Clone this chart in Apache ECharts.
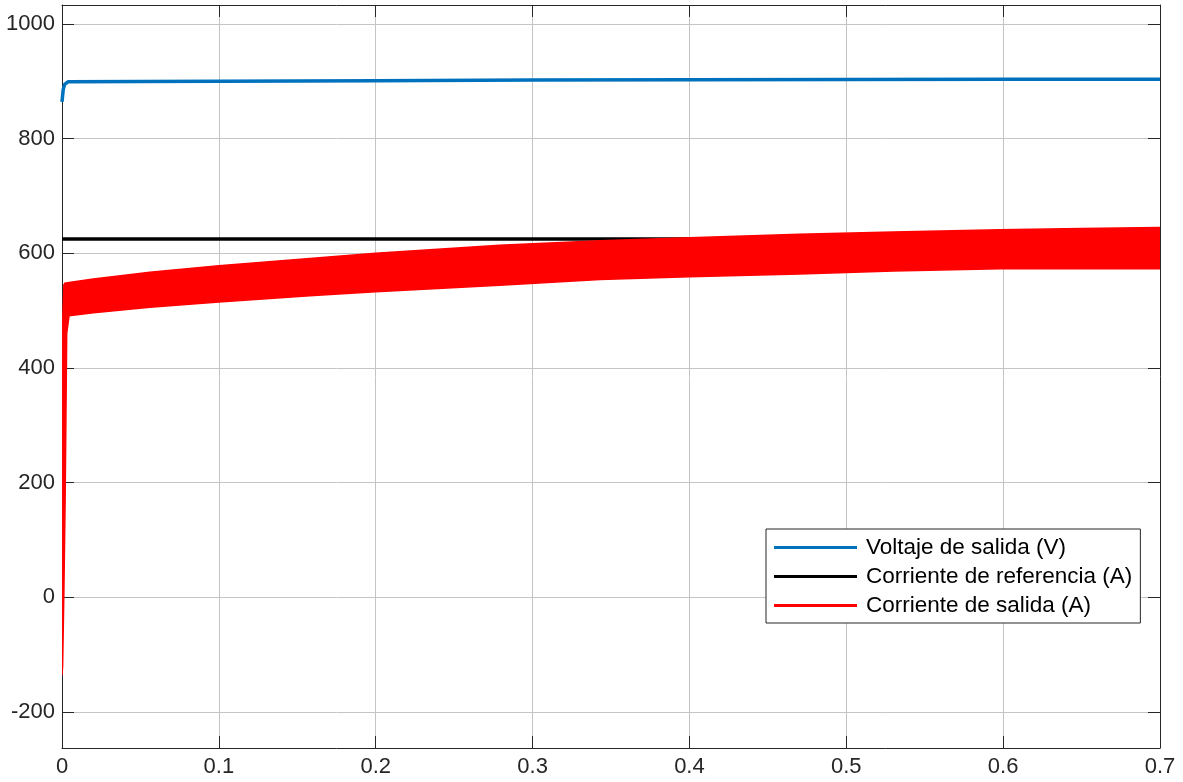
<!DOCTYPE html>
<html>
<head>
<meta charset="utf-8">
<script src="https://cdn.jsdelivr.net/npm/echarts@6/dist/echarts.min.js"></script>
<style>
  html, body { margin: 0; padding: 0; background: #ffffff; }
  #chart { width: 1183px; height: 782px; }
</style>
</head>
<body>
<div id="chart"></div>
<script>
// Axis ticks
const xTicks = [0, 0.1, 0.2, 0.3, 0.4, 0.5, 0.6, 0.7];
const yTicks = [-200, 0, 200, 400, 600, 800, 1000];

// Output voltage (V)
const voltageTime = [0, 0.0008, 0.0018, 0.004, 0.05, 0.1, 0.2, 0.3, 0.4, 0.5, 0.6, 0.7];
const voltageValue = [864, 886, 895, 899, 899.5, 900, 901, 902, 902.5, 903, 903.3, 903.5];

// Reference current (A)
const refTime = [0, 0.7];
const refValue = [625, 625];

// Output current (A): ripple envelope, upper and lower edges
const currentTime = [0, 0.0004, 0.0012, 0.002, 0.003, 0.0045, 0.02, 0.056, 0.1, 0.158, 0.2, 0.279, 0.343, 0.4, 0.47, 0.53, 0.598, 0.65, 0.7];
const currentUpper = [-136, 480, 545, 548, 548, 549, 555, 567, 578, 591, 600, 614, 622, 627, 633, 637, 641, 643, 645];
const currentLower = [-136, -120, 10, 170, 460, 491, 496, 506, 515, 526, 533, 544, 554, 559, 564, 569, 573, 573, 573];

const names = ['Voltaje de salida (V)', 'Corriente de referencia (A)', 'Corriente de salida (A)'];
const colors = ['#0072BD', '#000000', '#FF0000'];

const FONT = 'Liberation Sans, Arial, Helvetica, sans-serif';
const AXIS_COLOR = '#262626';
const GRID_COLOR = '#c4c4c4';

const pairs = (xs, ys) => xs.map((x, i) => [x, ys[i]]);
// one row per envelope sample: [time, upper, lower]
const bandRows = currentTime.map((t, i) => [t, currentUpper[i], currentLower[i]]);

const chart = echarts.init(document.getElementById('chart'), null, { renderer: 'canvas' });

const xBase = {
  type: 'value', min: 0, max: 0.7, interval: 0.1,
  axisLine: { show: true, onZero: false, lineStyle: { color: AXIS_COLOR, width: 1 } },
  axisTick: { show: true, inside: true, length: 12, lineStyle: { color: AXIS_COLOR, width: 1 } },
  splitLine: { show: false }
};
const yBase = {
  type: 'value', min: -263, max: 1033,
  axisLine: { show: true, onZero: false, lineStyle: { color: AXIS_COLOR, width: 1 } },
  axisTick: { show: true, inside: true, length: 12, customValues: yTicks, lineStyle: { color: AXIS_COLOR, width: 1 } },
  splitLine: { show: false }
};

// Filled ripple band of the output current, drawn as one polygon through the axis scales
function renderBand(params, api) {
  if (params.dataIndex !== 0) return null;
  const upper = bandRows.map(r => api.coord([r[0], r[1]]));
  const lower = bandRows.map(r => api.coord([r[0], r[2]])).reverse();
  const cs = params.coordSys;
  return {
    type: 'polygon',
    shape: { points: upper.concat(lower) },
    style: { fill: colors[2], stroke: colors[2], lineWidth: 1.5 },
    clipPath: { type: 'rect', shape: { x: cs.x, y: cs.y, width: cs.width, height: cs.height } }
  };
}

chart.setOption({
  animation: false,
  backgroundColor: '#ffffff',
  grid: { left: 62, right: 23, top: 5, bottom: 34, containLabel: false },
  xAxis: [
    Object.assign({}, xBase, {
      position: 'bottom',
      axisLabel: {
        show: true, margin: 8, fontSize: 22, color: AXIS_COLOR, fontFamily: FONT,
        formatter: v => String(+v.toFixed(1))
      },
      splitLine: { show: true, lineStyle: { color: GRID_COLOR, width: 1 } }
    }),
    Object.assign({}, xBase, { position: 'top', axisLabel: { show: false } })
  ],
  yAxis: [
    Object.assign({}, yBase, {
      position: 'left',
      axisLabel: {
        show: true, margin: 7, fontSize: 22, color: AXIS_COLOR, fontFamily: FONT,
        customValues: yTicks, formatter: v => String(v)
      },
      splitLine: { show: true, lineStyle: { color: GRID_COLOR, width: 1 } }
    }),
    Object.assign({}, yBase, { position: 'right', axisLabel: { show: false } })
  ],
  legend: {
    data: names,
    orient: 'vertical',
    left: 766, top: 529,
    padding: [7, 8, 6, 8],
    itemGap: 6,
    itemWidth: 83, itemHeight: 3,
    icon: 'rect',
    z: 20,
    backgroundColor: '#ffffff',
    borderColor: AXIS_COLOR, borderWidth: 1,
    textStyle: { fontSize: 22.5, color: '#000000', fontFamily: FONT, padding: [0, 0, 0, 4] }
  },
  series: [
    {
      name: names[0], type: 'line', data: pairs(voltageTime, voltageValue),
      showSymbol: false, symbol: 'none', color: colors[0],
      lineStyle: { color: colors[0], width: 3.5 }, z: 2
    },
    {
      name: names[1], type: 'line', data: pairs(refTime, refValue),
      showSymbol: false, symbol: 'none', color: colors[1],
      lineStyle: { color: colors[1], width: 3.5 }, z: 3
    },
    {
      name: names[2], type: 'custom', data: bandRows,
      encode: { x: 0, y: [1, 2] },
      renderItem: renderBand,
      itemStyle: { color: colors[2] },
      silent: true, z: 4
    }
  ]
});
</script>
</body>
</html>
